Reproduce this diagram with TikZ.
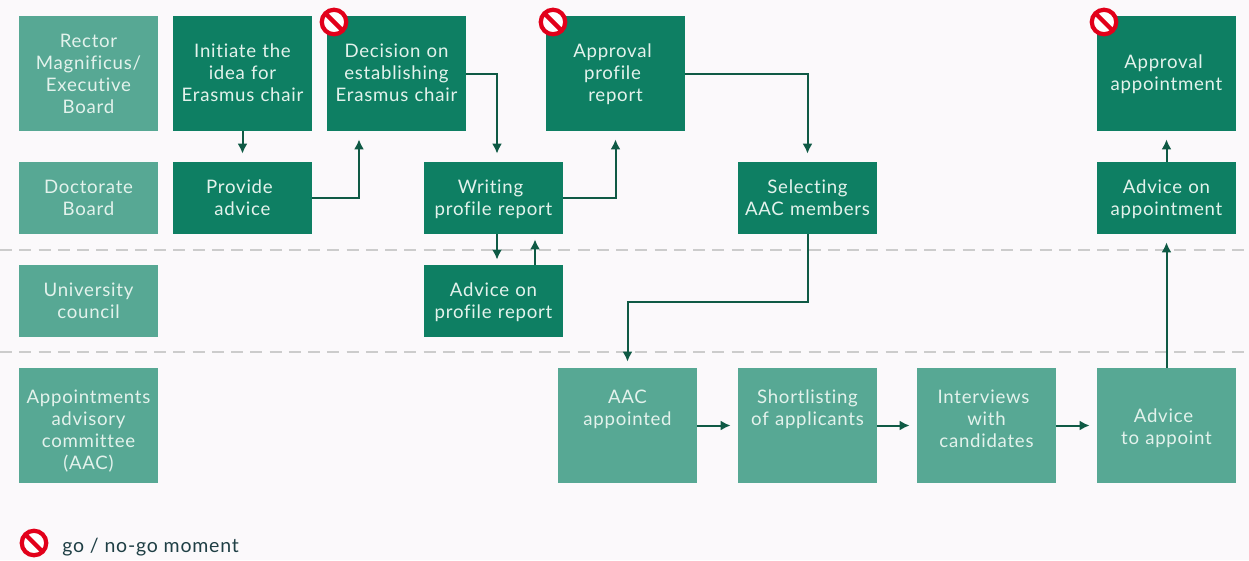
\documentclass[tikz,border=0pt]{standalone}
\usepackage{fontspec}
\setmainfont{Lato}[LetterSpace=4,Ligatures=NoCommon]
\usetikzlibrary{calc,arrows.meta}
\definecolor{pagebg}{HTML}{FBF9FB}
\definecolor{darkbox}{HTML}{0E7F63}
\definecolor{lightbox}{HTML}{57A894}
\definecolor{flowline}{HTML}{0F5A45}
\definecolor{boxtext}{HTML}{E3F2EC}
\definecolor{nogored}{HTML}{E2001A}
\definecolor{legendtext}{HTML}{1F3F45}
\tikzset{
	textup/.style={execute at end node={\rule[-\dimexpr\dp\strutbox+#1\relax]{0pt}{0pt}}},
	textdown/.style={execute at begin node={\rule{0pt}{\dimexpr\ht\strutbox+#1\relax}}},
	darkstep/.style={fill=darkbox,text=boxtext,align=center,inner sep=0pt,text width=27.8mm,font=\fontsize{10.6}{12.5}\selectfont,execute at end node=\strut,textdown=0.8mm},
	lightstep/.style={darkstep,fill=lightbox},
	tall/.style={minimum height=23mm},
	short/.style={minimum height=14.4mm},
	flow/.style={-{Latex[length=2mm,width=2mm]},line width=0.4mm,flowline},
	gap/.style={shorten >=1.6mm},
	rowline/.style={gray!40,line width=0.25mm,dash pattern=on 2.4mm off 1.45mm}
}
\newcommand{\trail}{\rule{1.2mm}{0pt}}
\newcommand{\nogosign}[1]{
	\fill[white] (#1) circle (2.6mm);
	\draw[nogored,line width=0.85mm] (#1) circle (2.45mm);
	\draw[nogored,line width=0.85mm] ($(#1)+(-9,-9)$) -- ($(#1)+(9,9)$);
}
\begin{document}
\begin{tikzpicture}[x=0.2mm,y=-0.2mm]
	\fill[pagebg] (0,0) rectangle (1249,560);
	\useasboundingbox (0,0) rectangle (1249,560);
	\draw[rowline] (0,250) -- (1249,250);
	\draw[rowline] (0,352) -- (1249,352);
	% left column
	\node[lightstep,tall,textdown=1.2mm] (rector) at (88.5,73.5) {Rector\\Magnificus/\\Executive\\Board};
	\node[lightstep,short] (doctorate) at (88.5,198) {Doctorate\\Board};
	\node[lightstep,short] (council) at (88.5,301) {University\\council};
	\node[lightstep,tall,textdown=2.8mm] (committee) at (88.5,425.5) {Appointments\\advisory\\committee\\(AAC)};
	% first row
	\node[darkstep,tall] (initiate) at (242.5,73.5) {Initiate the\\idea for\\Erasmus chair};
	\node[darkstep,tall] (decision) at (396.5,73.5) {Decision on\\establishing\\Erasmus chair};
	\node[darkstep,tall] (approval) at (615.5,73.5) {Approval\trail\\profile\trail\\report};
	\node[darkstep,tall] (appointment) at (1166.5,73.5) {Approval\trail\\appointment};
	% second row
	\node[darkstep,short] (provide) at (242.5,198) {Provide\trail\\advice};
	\node[darkstep,short] (writing) at (493.5,198) {Writing\trail\\profile report};
	\node[darkstep,short] (selecting) at (807.5,198) {Selecting\\AAC members};
	\node[darkstep,short] (adviceappt) at (1166.5,198) {Advice on\\appointment};
	% third row
	\node[darkstep,short] (adviceprofile) at (493.5,301) {Advice on\\profile report};
	% last row
	\node[lightstep,tall,textup=7mm] (aac) at (627.5,425.5) {AAC\\appointed};
	\node[lightstep,tall,textup=7mm] (shortlist) at (807.5,425.5) {Shortlisting\\of applicants};
	\node[lightstep,tall,textup=2.6mm] (interviews) at (986.5,425.5) {Interviews\trail\\with\\candidates};
	\node[lightstep,tall,textdown=1.6mm] (toappoint) at (1166.5,425.5) {Advice\trail\\to appoint};
	% connectors
	\draw[flow,gap] (initiate) -- (provide);
	\draw[flow,gap] (provide.east) -| ($(decision.south)+(-37.5,0)$);
	\draw[flow,gap] (decision.east) -| ($(writing.north)+(3.5,0)$);
	\draw[flow,gap] (writing.east) -| (approval.south);
	\draw[flow,gap] (approval.east) -| (selecting.north);
	\draw[flow,shorten >=1mm] ($(writing.south)+(3.5,0)$) -- ($(adviceprofile.north)+(3.5,0)$);
	\draw[flow,shorten >=1mm] ($(adviceprofile.north)+(41.5,0)$) -- ($(writing.south)+(41.5,0)$);
	\draw[flow,shorten >=1.2mm] (selecting.south) -- ++(0,68) -| (aac.north);
	\draw[flow,shorten >=1.4mm] (aac) -- (shortlist);
	\draw[flow,shorten >=1.4mm] (shortlist) -- (interviews);
	\draw[flow,shorten >=1.4mm] (interviews) -- (toappoint);
	\draw[flow,gap] (toappoint) -- (adviceappt);
	\draw[flow,gap] (adviceappt) -- (appointment);
	% go / no-go marks
	\nogosign{334,22}
	\nogosign{553,22}
	\nogosign{1104,22}
	\nogosign{34,543}
	\node[anchor=west,inner sep=0pt,text=legendtext,font=\fontsize{11.1}{13}\selectfont] (legend) at (62,547) {go / no-go moment};
\end{tikzpicture}
\end{document}
